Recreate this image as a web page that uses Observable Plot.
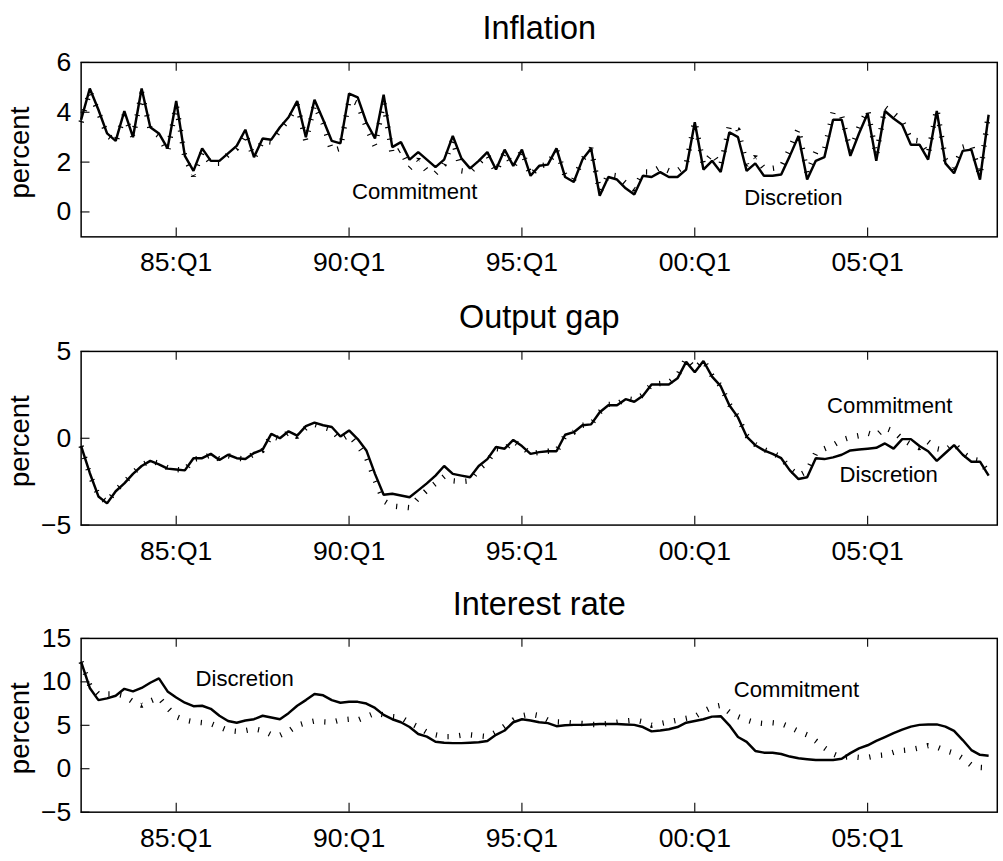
<!DOCTYPE html>
<html><head><meta charset="utf-8">
<script src="https://cdn.jsdelivr.net/npm/d3@7"></script>
<script src="https://cdn.jsdelivr.net/npm/@observablehq/plot@0.6"></script>
<style>
html,body{margin:0;padding:0;background:#fff;overflow:hidden;width:1003px;height:861px;}
#chart{position:relative;width:1003px;height:861px;overflow:hidden;}
#chart svg{position:absolute;left:0;}
</style></head><body><div id="chart"></div>
<script>
// Quarterly data, first observation 1982:Q2
const startYear = 1982, startQuarter = 2;

const inflationDisc = [3.7,4.95,4.1,3.15,2.85,4.05,3.0,4.95,3.4,3.15,2.55,4.45,2.25,1.65,2.55,2.05,2.05,2.35,2.65,3.3,
 2.2,2.95,2.9,3.4,3.8,4.45,3.0,4.5,3.7,2.85,2.75,4.75,4.6,3.6,2.95,4.7,2.6,2.8,2.1,2.4,
 2.1,1.8,2.1,3.05,2.15,1.75,2.05,2.4,1.7,2.5,1.85,2.5,1.45,1.85,1.9,2.55,1.4,1.2,2.1,2.55,
 0.65,1.4,1.3,0.95,0.7,1.45,1.4,1.6,1.4,1.4,1.7,3.6,1.7,2.05,1.6,3.2,3.0,1.65,1.95,1.45,
 1.45,1.5,2.25,3.05,1.3,2.05,2.2,3.7,3.7,2.25,3.15,3.95,2.05,4.05,3.75,3.5,2.7,2.7,2.1,4.05,
 1.95,1.55,2.45,2.5,1.3,3.9];
const inflationComm = [3.6,4.85,4.0,3.1,2.8,3.9,3.0,4.8,3.3,3.05,2.4,4.3,2.2,1.45,2.4,1.95,1.95,2.3,2.55,3.15,
 2.15,2.85,2.8,3.3,3.7,4.3,2.85,4.3,3.55,2.45,2.55,4.5,4.35,3.4,2.65,4.4,2.3,2.5,1.75,2.1,
 1.65,1.55,1.9,2.9,1.65,1.6,1.95,2.3,1.6,2.4,1.8,2.45,1.45,1.85,1.9,2.5,1.45,1.3,2.1,2.55,
 0.8,1.5,1.45,1.15,0.9,1.6,1.6,1.8,1.65,1.65,1.9,3.65,1.9,2.35,1.85,3.45,3.3,1.9,2.2,1.75,
 1.75,1.8,2.55,3.35,1.55,2.4,2.5,4.0,3.85,2.45,3.4,4.1,2.25,4.2,3.95,3.65,2.9,2.85,2.3,4.15,
 2.1,1.75,2.6,2.7,1.45,4.0];

const outputDisc = [-0.45,-2.0,-3.35,-3.75,-3.05,-2.6,-2.05,-1.6,-1.3,-1.5,-1.75,-1.8,-1.85,-1.15,-1.15,-0.9,-1.25,-0.95,-1.15,-1.2,
 -0.85,-0.65,0.25,0.0,0.4,0.15,0.7,0.9,0.75,0.65,0.1,0.45,-0.05,-0.7,-2.05,-3.25,-3.2,-3.3,-3.4,-3.0,
 -2.6,-2.15,-1.6,-2.05,-2.15,-2.25,-1.6,-1.2,-0.5,-0.6,-0.1,-0.45,-0.9,-0.8,-0.75,-0.75,0.2,0.35,0.75,0.8,
 1.5,1.9,1.9,2.25,2.1,2.45,3.1,3.1,3.1,3.45,4.4,3.8,4.45,3.55,3.0,1.9,1.2,0.1,-0.4,-0.7,
 -0.9,-1.15,-1.85,-2.35,-2.25,-1.15,-1.2,-1.1,-0.95,-0.7,-0.65,-0.6,-0.55,-0.3,-0.6,-0.05,-0.05,-0.45,-0.75,-1.3,
 -0.85,-0.4,-0.95,-1.35,-1.35,-2.15];
const outputComm = [-0.45,-2.1,-3.3,-3.7,-3.0,-2.55,-2.0,-1.55,-1.3,-1.45,-1.7,-1.8,-1.85,-1.2,-1.15,-0.95,-1.2,-1.0,-1.15,-1.2,
 -0.9,-0.7,0.15,-0.05,0.35,0.1,0.6,0.8,0.65,0.5,-0.1,0.2,-0.4,-1.1,-2.4,-3.6,-3.9,-3.95,-4.0,-3.45,
 -3.0,-2.6,-2.2,-2.45,-2.5,-2.45,-1.8,-1.35,-0.6,-0.65,-0.15,-0.5,-0.9,-0.8,-0.75,-0.75,0.15,0.35,0.75,0.8,
 1.5,1.95,1.95,2.3,2.2,2.5,3.1,3.15,3.2,3.6,4.6,4.0,4.5,3.6,3.0,1.95,1.2,0.15,-0.35,-0.65,
 -0.85,-1.1,-1.75,-2.15,-1.9,-0.85,-0.6,-0.4,-0.1,0.05,0.15,0.3,0.15,0.6,0.4,-0.05,-0.35,-0.55,-0.2,-0.6,
 -0.7,-0.3,-0.85,-1.2,-1.3,-2.0];

const rateDisc = [12.3,9.3,7.9,8.1,8.4,9.2,8.9,9.3,9.9,10.4,8.9,8.2,7.6,7.2,7.25,6.9,6.1,5.5,5.3,5.55,
 5.7,6.1,5.9,5.7,6.4,7.25,7.9,8.6,8.45,7.9,7.6,7.7,7.7,7.5,7.0,6.2,5.7,5.35,4.8,4.0,
 3.7,3.1,3.0,2.95,2.95,3.0,3.05,3.2,3.9,4.4,5.35,5.7,5.55,5.35,5.25,4.9,5.0,5.05,5.05,5.1,
 5.15,5.15,5.15,5.1,5.05,4.8,4.3,4.4,4.55,4.8,5.3,5.5,5.7,6.0,6.05,5.0,3.65,3.1,2.05,1.85,
 1.85,1.7,1.4,1.2,1.1,1.0,1.0,1.0,1.15,1.8,2.35,2.7,3.2,3.65,4.1,4.5,4.85,5.05,5.1,5.1,
 4.85,4.35,3.3,2.15,1.6,1.5];
const rateComm = [12.3,9.6,8.6,8.6,8.6,8.4,7.7,7.3,7.8,8.2,7.0,6.0,5.6,5.4,5.3,5.2,4.8,4.4,4.3,4.4,
 4.6,4.4,3.9,3.85,4.3,5.0,5.3,5.5,5.4,5.35,5.6,5.7,5.6,6.0,6.4,6.2,6.0,5.9,5.3,4.8,
 4.2,3.9,3.7,3.7,3.85,3.9,3.8,3.7,4.2,4.9,5.6,6.1,6.3,6.1,5.6,5.4,5.35,5.25,5.2,5.1,
 5.1,5.2,5.35,5.5,5.6,5.4,5.0,5.2,5.4,5.6,5.8,6.0,6.6,7.1,7.3,6.5,6.0,5.6,5.3,5.2,
 5.3,5.2,4.8,4.3,3.9,3.2,2.4,1.7,1.3,1.4,1.3,1.3,1.5,1.6,1.9,2.1,2.2,2.4,2.65,2.5,
 2.1,1.8,1.2,0.4,0.15,0.1];

const xTickValues = [1985, 1990, 1995, 2000, 2005];
const xTickLabels = ["85:Q1", "90:Q1", "95:Q1", "00:Q1", "05:Q1"];
const inflationTicks = [0, 2, 4, 6];
const outputTicks = [-5, 0, 5];
const rateTicks = [-5, 0, 5, 10, 15];

// text annotations placed in data coordinates (year, value)
const inflationNotes = [{text: "Commitment", t: 1991.9, v: 0.8}, {text: "Discretion", t: 2002.85, v: 0.57}];
const outputNotes = [{text: "Commitment", t: 2005.64, v: 1.84}, {text: "Discretion", t: 2005.61, v: -2.1}];
const rateNotes = [{text: "Discretion", t: 1986.98, v: 10.36}, {text: "Commitment", t: 2002.94, v: 9.09}];

const FONT = "'Liberation Sans', Arial, Helvetica, sans-serif";
const xDomain = [1982.25, 2008.75];
const W = 1020, ML = 82, MR = 6.3, MT = 64, MB = 52;
const plotW = W - ML - MR;

function rows(disc, comm) {
  const t0 = startYear + (startQuarter - 1) / 4;
  return disc.map((d, i) => ({t: t0 + i / 4, disc: d, comm: comm[i]}));
}

const panels = [
  {title: "Inflation", data: rows(inflationDisc, inflationComm), yDomain: [-1, 6], yTicks: inflationTicks, notes: inflationNotes, frameTop: 63.3, frameH: 177.4},
  {title: "Output gap", data: rows(outputDisc, outputComm), yDomain: [-5, 5], yTicks: outputTicks, notes: outputNotes, frameTop: 351.7, frameH: 176.6},
  {title: "Interest rate", data: rows(rateDisc, rateComm), yDomain: [-5, 15], yTicks: rateTicks, notes: rateNotes, frameTop: 639.3, frameH: 176.7}
];

const fmtY = d => d < 0 ? "\u2212" + Math.abs(d) : String(d);
const chart = document.getElementById("chart");

for (const p of panels) {
  const [y0, y1] = p.yDomain;
  const dyPx = (y1 - y0) / p.frameH;   // data units per pixel (y)
  const dxPx = (xDomain[1] - xDomain[0]) / plotW; // data units per pixel (x)
  const tickLen = 9;
  const svg = Plot.plot({
    width: W,
    height: MT + p.frameH + MB,
    marginLeft: ML, marginRight: MR, marginTop: MT, marginBottom: MB,
    style: {fontFamily: FONT, color: "black", background: "white"},
    x: {domain: xDomain, label: null},
    y: {domain: p.yDomain, label: null},
    marks: [
      Plot.line(p.data, {x: "t", y: "comm", stroke: "black", strokeWidth: 5.5, strokeDasharray: "1.2,10.8", strokeLinecap: "butt", strokeLinejoin: "miter"}),
      Plot.line(p.data, {x: "t", y: "disc", stroke: "black", strokeWidth: 2.5, strokeLinejoin: "miter", strokeLinecap: "butt"}),
      Plot.ruleX(xTickValues, {x: d => d, y1: y0, y2: y0 + tickLen * dyPx, stroke: "black", strokeWidth: 1.1}),
      Plot.ruleX(xTickValues, {x: d => d, y1: y1, y2: y1 - tickLen * dyPx, stroke: "black", strokeWidth: 1.1}),
      Plot.ruleY(p.yTicks, {y: d => d, x1: xDomain[0], x2: xDomain[0] + tickLen * dxPx, stroke: "black", strokeWidth: 1.1}),
      Plot.frame({stroke: "black", strokeWidth: 1.5}),
      Plot.axisX({ticks: xTickValues, tickFormat: d => xTickLabels[xTickValues.indexOf(d)], tickSize: 0, tickPadding: 16, fontSize: 27, label: null}),
      Plot.axisY({ticks: p.yTicks, tickFormat: fmtY, tickSize: 0, tickPadding: 10, fontSize: 27, label: null}),
      Plot.text([p.title], {text: d => d, frameAnchor: "top", lineAnchor: "bottom", dy: -24, fontSize: 33}),
      Plot.text(["percent"], {text: d => d, frameAnchor: "left", rotate: -90, lineAnchor: "bottom", textAnchor: "middle", dx: -53, dy: 3, fontSize: 28}),
      Plot.text(p.notes, {x: "t", y: "v", text: "text", fontSize: 22.5})
    ]
  });
  svg.style.top = (p.frameTop - MT) + "px";
  chart.appendChild(svg);
}
</script></body></html>
